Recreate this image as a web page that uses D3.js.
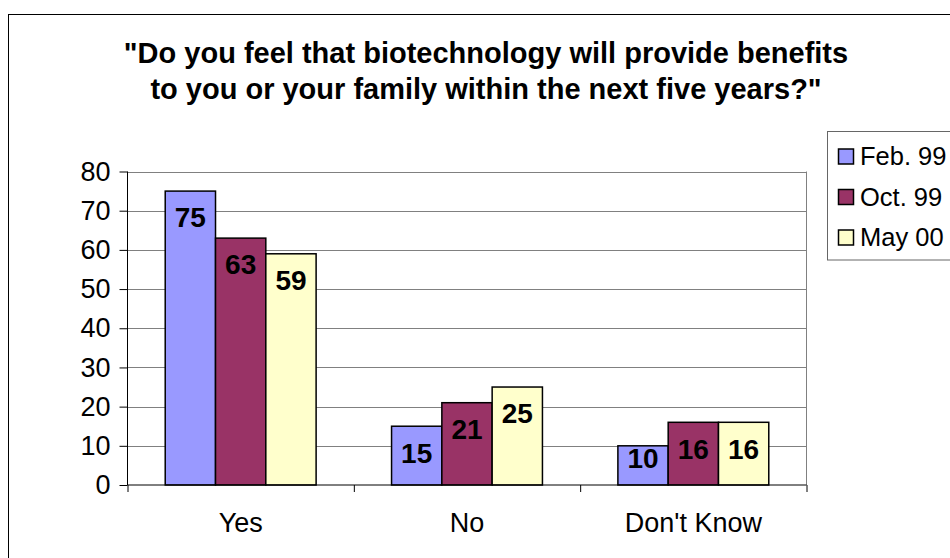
<!DOCTYPE html>
<html>
<head>
<meta charset="utf-8">
<script src="https://cdn.jsdelivr.net/npm/d3@7/dist/d3.min.js"></script>
<style>
  html, body { margin: 0; padding: 0; background: #fff; }
  svg { display: block; font-family: Arial, "Liberation Sans", sans-serif; }
</style>
</head>
<body>
<svg id="chart" width="950" height="558"></svg>
<script>
const titleLines = ['"Do you feel that biotechnology will provide benefits', 'to you or your family within the next five years?"'];
const categories = ["Yes", "No", "Don't Know"];
const seriesNames = ["Feb. 99", "Oct. 99", "May 00"];
const feb99 = [75, 15, 10];
const oct99 = [63, 21, 16];
const may00 = [59, 25, 16];
const seriesColors = ["#9999FF", "#993366", "#FFFFCC"];
const yTicks = [0, 10, 20, 30, 40, 50, 60, 70, 80];

const seriesValues = [feb99, oct99, may00];
const svg = d3.select("#chart");

// outer chart border
svg.append("rect").attr("x", 8.5).attr("y", 14.5).attr("width", 960).attr("height", 560)
  .attr("fill", "#fff").attr("stroke", "#000").attr("stroke-width", 1);

const plotL = 127.5, plotR = 806.5, plotT = 171.5, plotB = 485;

const x0 = d3.scaleBand().domain(categories).range([plotL, plotR]).padding(0);
const band = x0.bandwidth();
const x1 = d3.scaleBand().domain(seriesNames).range([band / 6, band * 5 / 6]).padding(0);
const y = d3.scaleLinear().domain([0, 80]).range([plotB, plotT]);

// gridlines
svg.append("g").selectAll("line").data(yTicks.filter(d => d > 0)).join("line")
  .attr("x1", plotL).attr("x2", plotR)
  .attr("y1", d => Math.round(y(d)) + 0.5).attr("y2", d => Math.round(y(d)) + 0.5)
  .attr("stroke", "#808080").attr("stroke-width", 1);
// right border of plot area
svg.append("line").attr("x1", plotR).attr("x2", plotR).attr("y1", plotT).attr("y2", plotB)
  .attr("stroke", "#808080").attr("stroke-width", 1);

// bars
const groups = svg.append("g").selectAll("g").data(categories).join("g")
  .attr("transform", c => `translate(${x0(c)},0)`);

groups.each(function(c, ci) {
  const g = d3.select(this);
  seriesNames.forEach((s, si) => {
    const v = seriesValues[si][ci];
    g.append("rect")
      .attr("x", x1(s)).attr("width", x1.bandwidth())
      .attr("y", y(v)).attr("height", y(0) - y(v))
      .attr("fill", seriesColors[si]).attr("stroke", "#000").attr("stroke-width", 1.5);
  });
  seriesNames.forEach((s, si) => {
    const v = seriesValues[si][ci];
    const h = y(0) - y(v);
    const off = h > 45 ? 26.5 : 12.5;
    g.append("text")
      .attr("x", x1(s) + x1.bandwidth() / 2).attr("y", y(v) + off)
      .attr("dy", "0.35em").attr("text-anchor", "middle")
      .attr("font-size", 28).attr("font-weight", "bold").attr("fill", "#000")
      .text(v);
  });
});

// y axis
const yAxis = d3.axisLeft(y).tickValues(yTicks).tickSize(8).tickPadding(9);
const yg = svg.append("g").attr("transform", `translate(${plotL},0)`).call(yAxis);
yg.select(".domain").attr("stroke", "#000").attr("d", `M0,${plotT}V${plotB}`);
yg.selectAll(".tick line").attr("stroke", "#000");
yg.selectAll(".tick text").attr("font-size", 27).attr("fill", "#000")
  .attr("font-family", "Arial, 'Liberation Sans', sans-serif");

// x axis: boundary ticks
const xb = d3.scaleLinear().domain([0, categories.length]).range([plotL, plotR]);
const xAxis = d3.axisBottom(xb).tickValues(d3.range(categories.length + 1)).tickSize(7).tickFormat("");
const xg = svg.append("g").attr("transform", `translate(0,${plotB})`).call(xAxis);
xg.select(".domain").attr("stroke", "#000").attr("d", `M${plotL},0H${plotR}`);
xg.selectAll(".tick line").attr("stroke", "#000");

// category labels
svg.append("g").selectAll("text").data(categories).join("text")
  .attr("x", c => x0(c) + band / 2).attr("y", 531.5)
  .attr("text-anchor", "middle").attr("font-size", 27).attr("fill", "#000")
  .text(c => c);

// title
svg.append("g").selectAll("text").data(titleLines).join("text")
  .attr("x", 486).attr("y", (d, i) => 62.5 + i * 36)
  .attr("text-anchor", "middle").attr("font-size", 29).attr("font-weight", "bold").attr("fill", "#000")
  .text(d => d);

// legend
const lg = svg.append("g");
lg.append("rect").attr("x", 827.5).attr("y", 131.5).attr("width", 140).attr("height", 128.5)
  .attr("fill", "#fff").attr("stroke", "#666").attr("stroke-width", 1);
seriesNames.forEach((s, i) => {
  const cy = 156.5 + i * 40.5;
  lg.append("rect").attr("x", 838.5).attr("y", cy - 7.5).attr("width", 15).attr("height", 15)
    .attr("fill", seriesColors[i]).attr("stroke", "#000").attr("stroke-width", 1.5);
  lg.append("text").attr("x", 860).attr("y", cy).attr("dy", "0.35em")
    .attr("font-size", 25.5).attr("fill", "#000").text(s);
});
</script>
</body>
</html>
